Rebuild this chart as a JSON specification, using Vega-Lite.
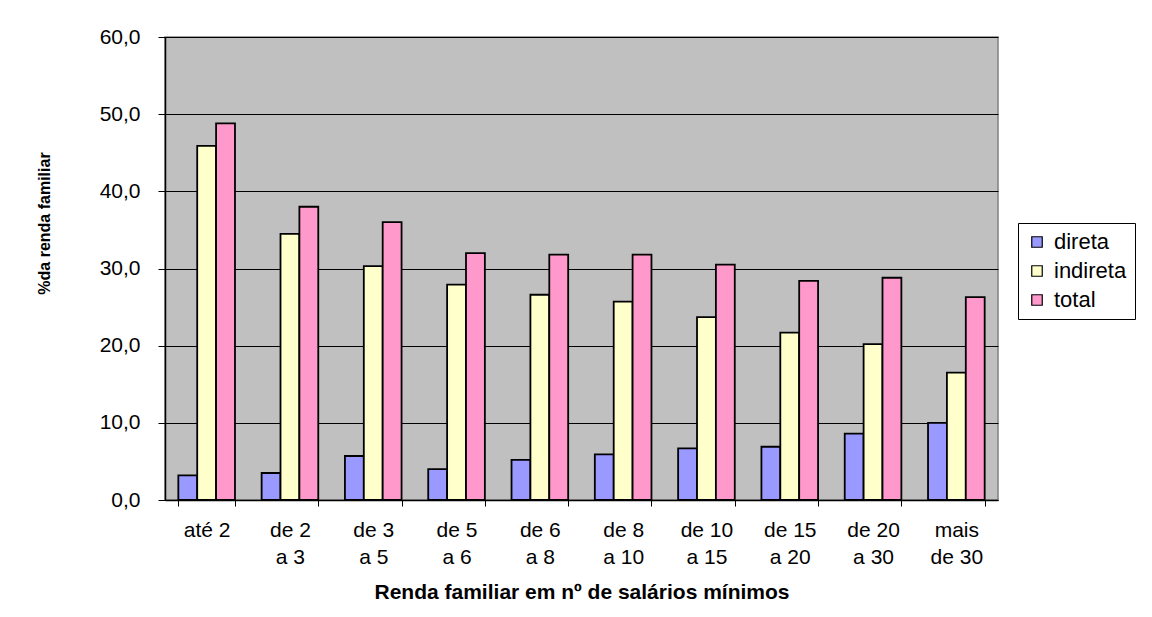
{
  "$schema": "https://vega.github.io/schema/vega-lite/v6.json",
  "autosize": {"type": "none"},
  "padding": {"left": 165, "top": 37, "right": 154, "bottom": 117},
  "width": 833,
  "height": 463,
  "background": "white",
  "data": {
    "values": [
      {"faixa": "até 2", "tipo": "direta", "valor": 3.2},
      {"faixa": "até 2", "tipo": "indireta", "valor": 45.9},
      {"faixa": "até 2", "tipo": "total", "valor": 48.8},
      {"faixa": "de 2 a 3", "tipo": "direta", "valor": 3.5},
      {"faixa": "de 2 a 3", "tipo": "indireta", "valor": 34.5},
      {"faixa": "de 2 a 3", "tipo": "total", "valor": 38.0},
      {"faixa": "de 3 a 5", "tipo": "direta", "valor": 5.7},
      {"faixa": "de 3 a 5", "tipo": "indireta", "valor": 30.3},
      {"faixa": "de 3 a 5", "tipo": "total", "valor": 36.0},
      {"faixa": "de 5 a 6", "tipo": "direta", "valor": 4.0},
      {"faixa": "de 5 a 6", "tipo": "indireta", "valor": 27.9},
      {"faixa": "de 5 a 6", "tipo": "total", "valor": 32.0},
      {"faixa": "de 6 a 8", "tipo": "direta", "valor": 5.2},
      {"faixa": "de 6 a 8", "tipo": "indireta", "valor": 26.6},
      {"faixa": "de 6 a 8", "tipo": "total", "valor": 31.8},
      {"faixa": "de 8 a 10", "tipo": "direta", "valor": 5.9},
      {"faixa": "de 8 a 10", "tipo": "indireta", "valor": 25.7},
      {"faixa": "de 8 a 10", "tipo": "total", "valor": 31.8},
      {"faixa": "de 10 a 15", "tipo": "direta", "valor": 6.7},
      {"faixa": "de 10 a 15", "tipo": "indireta", "valor": 23.7},
      {"faixa": "de 10 a 15", "tipo": "total", "valor": 30.5},
      {"faixa": "de 15 a 20", "tipo": "direta", "valor": 6.9},
      {"faixa": "de 15 a 20", "tipo": "indireta", "valor": 21.7},
      {"faixa": "de 15 a 20", "tipo": "total", "valor": 28.4},
      {"faixa": "de 20 a 30", "tipo": "direta", "valor": 8.6},
      {"faixa": "de 20 a 30", "tipo": "indireta", "valor": 20.2},
      {"faixa": "de 20 a 30", "tipo": "total", "valor": 28.8},
      {"faixa": "mais de 30", "tipo": "direta", "valor": 10.0},
      {"faixa": "mais de 30", "tipo": "indireta", "valor": 16.5},
      {"faixa": "mais de 30", "tipo": "total", "valor": 26.3}
    ]
  },
  "mark": {"type": "bar", "stroke": "black", "strokeWidth": 1.8},
  "encoding": {
    "x": {
      "field": "faixa",
      "type": "nominal",
      "sort": null,
      "scale": {"paddingInner": 0.32, "paddingOuter": 0.16},
      "axis": {
        "title": "Renda familiar em nº de salários mínimos",
        "titleFont": "Liberation Sans",
        "titleFontSize": 21,
        "titleFontWeight": "bold",
        "titleColor": "black",
        "titleBaseline": "alphabetic",
        "titleY": 98,
        "labelAngle": 0,
        "labelFont": "Liberation Sans",
        "labelFontSize": 21,
        "labelColor": "black",
        "labelBaseline": "top",
        "labelPadding": 13,
        "labelLineHeight": 27,
        "labelExpr": "datum.label == 'até 2' ? 'até 2' : datum.label == 'mais de 30' ? ['mais', 'de 30'] : [slice(datum.label, 0, indexof(datum.label, ' a ')), slice(datum.label, indexof(datum.label, ' a ') + 1)]",
        "tickBand": "extent",
        "tickSize": 6,
        "tickColor": "black",
        "domainColor": "black",
        "domainWidth": 1.5,
        "grid": false
      }
    },
    "xOffset": {
      "field": "tipo",
      "type": "nominal",
      "sort": ["direta", "indireta", "total"],
      "scale": {"paddingInner": 0, "paddingOuter": 0}
    },
    "y": {
      "field": "valor",
      "type": "quantitative",
      "scale": {"domain": [0, 60], "nice": false},
      "axis": {
        "values": [0, 10, 20, 30, 40, 50, 60],
        "labelExpr": "replace(format(datum.value, '.1f'), '.', ',')",
        "labelFont": "Liberation Sans",
        "labelFontSize": 21,
        "labelColor": "black",
        "labelPadding": 18,
        "tickSize": 7,
        "tickColor": "black",
        "domainColor": "black",
        "domainWidth": 1.5,
        "grid": true,
        "gridColor": "black",
        "gridWidth": 1,
        "title": "%da renda familiar",
        "titleFont": "Liberation Sans",
        "titleFontSize": 16,
        "titleFontWeight": "bold",
        "titleColor": "black",
        "titleAngle": -90,
        "titleAlign": "center",
        "titleBaseline": "middle",
        "titleX": -121,
        "titleY": 186
      }
    },
    "color": {
      "field": "tipo",
      "type": "nominal",
      "sort": ["direta", "indireta", "total"],
      "scale": {"domain": ["direta", "indireta", "total"], "range": ["#9999FF", "#FFFFCC", "#FF99CC"]},
      "legend": {
        "title": null,
        "orient": "none",
        "legendX": 853,
        "legendY": 186,
        "strokeColor": "black",
        "fillColor": "white",
        "padding": 8,
        "symbolType": "square",
        "symbolSize": 110,
        "symbolStrokeColor": "black",
        "symbolStrokeWidth": 1.2,
        "symbolOpacity": 1,
        "labelFont": "Liberation Sans",
        "labelFontSize": 22,
        "labelColor": "black",
        "labelOffset": 6,
        "rowPadding": 7
      }
    }
  },
  "config": {
    "view": {"fill": "#C0C0C0", "stroke": "#808080", "strokeWidth": 1.5}
  }
}
